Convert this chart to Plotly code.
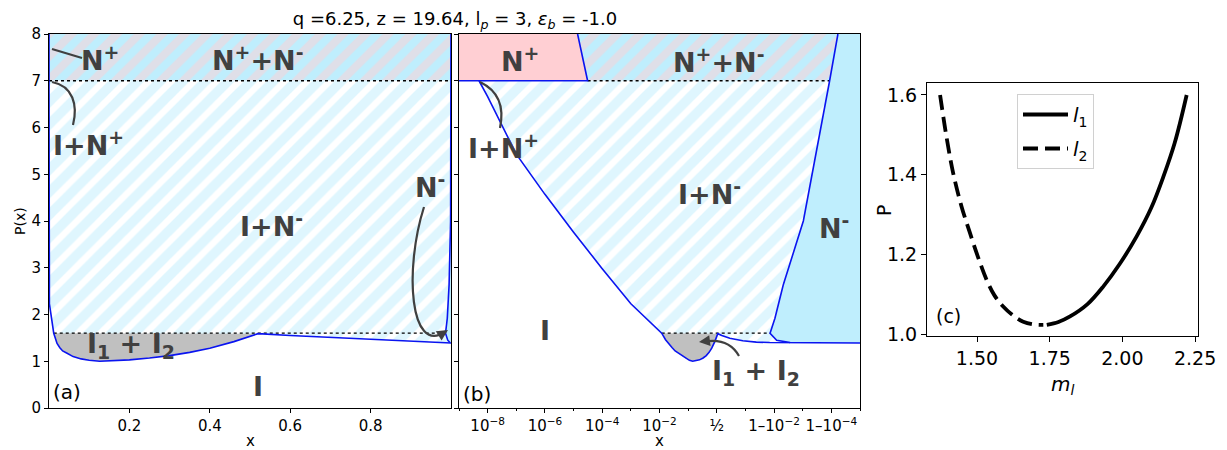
import numpy as np
import plotly.graph_objects as go

# ---------------- data ----------------
# lower phase boundary (I | I+N-  and  I | I1+I2), x and P
low_x = [5e-9, 1e-8, 1e-7, 1e-6, 1e-5, 1e-4, 1e-3, 0.0118, 0.016, 0.02, 0.027, 0.034,
         0.045, 0.06, 0.08, 0.1, 0.126, 0.16, 0.2, 0.25, 0.3, 0.35, 0.4, 0.46, 0.52,
         0.6, 0.74, 0.89, 0.96, 0.986, 0.997, 0.9998, 0.99999]
low_P = [7.0, 6.66, 5.43, 4.57, 3.76, 2.98, 2.23, 1.60, 1.46, 1.38, 1.29, 1.22,
         1.17, 1.10, 1.05, 1.02, 1.00, 1.01, 1.03, 1.07, 1.12, 1.19, 1.28, 1.42, 1.59,
         1.55, 1.49, 1.44, 1.41, 1.40, 1.395, 1.39, 1.39]
# boundary of the pure N- region
nm_x = [0.999941, 0.999885, 0.99905, 0.99523, 0.99076, 0.98638, 0.99194, 0.99725]
nm_P = [8.0, 7.0, 4.0, 2.63, 1.92, 1.60, 1.45, 1.40]
# boundary of the pure N+ region
np_x = [3.09e-5, 1.38e-5]
np_P = [7.0, 8.0]
# horizontal three-phase lines
P_upper = 7.0
P_lower = 1.6
x_lower_start = 0.0118
x_lower_end = 0.98638

# panel (c): coexisting isotropic branches
l1_m = [1.740, 1.780, 1.820, 1.880, 1.934, 1.990, 2.049, 2.100, 2.141, 2.180, 2.221]
l1_P = [1.023, 1.030, 1.044, 1.075, 1.119, 1.175, 1.245, 1.318, 1.395, 1.480, 1.600]
l2_m = [1.373, 1.395, 1.418, 1.446, 1.476, 1.505, 1.533, 1.560, 1.590, 1.625, 1.659, 1.695, 1.728]
l2_P = [1.600, 1.495, 1.404, 1.322, 1.253, 1.190, 1.136, 1.097, 1.069, 1.046, 1.031, 1.024, 1.023]

xticks_b = [-8, -6, -4, -2, 0, 2, 4]
xticktext_b = ["10<sup>−8</sup>", "10<sup>−6</sup>", "10<sup>−4</sup>", "10<sup>−2</sup>", "½",
               "1–10<sup>−2</sup>", "1–10<sup>−4</sup>"]

# ---------------- styling ----------------
BLUE_FILL = "#bfeefd"
PINK = "#ffcfd3"
GRAY = "#c0c0c0"
LINE_BLUE = "#0a14f0"
TXT = "#404040"
# the page body has an 8px margin (top/left): shift the figure coordinates accordingly
OFF = 8
W, H = 1227 - OFF, 450 - OFF


def px(X):
    return (X - OFF) / W


def py(Y):
    return 1 - (Y - OFF) / H


def logit(v):
    v = np.asarray(v, dtype=float)
    return np.log10(v / (1 - v))


def ident(v):
    return np.asarray(v, dtype=float)


fig = go.Figure()


def add_panel(xa, ya, tf, xmin, xmax):
    lx = np.array(low_x)
    lp = np.array(low_P)
    nx = np.array(nm_x)
    npp = np.array(nm_P)
    merge = nx[-1]
    # N+ + N- (hatched pink/blue)
    bx = [np_x[0], nx[1], nx[0], np_x[1]]
    bp = [P_upper, P_upper, 8.0, 8.0]
    fig.add_trace(go.Scatter(x=tf(bx), y=bp, fill="toself", mode="lines", line=dict(width=0),
                             fillcolor=BLUE_FILL,
                             fillpattern=dict(shape="/", bgcolor=BLUE_FILL, fgcolor=PINK,
                                              size=16, solidity=0.5),
                             xaxis=xa, yaxis=ya, hoverinfo="skip", showlegend=False))
    # I + N- (hatched white/blue)
    sel = lx < merge
    px_ = np.concatenate([[lx[0]], nx[1:], lx[sel][::-1]])
    pp_ = np.concatenate([[P_upper], npp[1:], lp[sel][::-1]])
    fig.add_trace(go.Scatter(x=tf(px_), y=pp_, fill="toself", mode="lines", line=dict(width=0),
                             fillcolor="white",
                             fillpattern=dict(shape="/", bgcolor="white", fgcolor=BLUE_FILL,
                                              size=16, solidity=0.6),
                             xaxis=xa, yaxis=ya, hoverinfo="skip", showlegend=False))
    # I1 + I2 (gray)
    g = (lx >= x_lower_start) & (lx <= 0.52)
    fig.add_trace(go.Scatter(x=tf(lx[g]), y=lp[g], fill="toself", mode="lines", line=dict(width=0),
                             fillcolor=GRAY, xaxis=xa, yaxis=ya, hoverinfo="skip", showlegend=False))
    # N- (solid)
    r = lx > merge
    nmx = np.concatenate([nx, lx[r], [xmax, xmax]])
    nmp = np.concatenate([npp, lp[r], [lp[-1], 8.0]])
    fig.add_trace(go.Scatter(x=tf(nmx), y=nmp, fill="toself", mode="lines", line=dict(width=0),
                             fillcolor=BLUE_FILL, xaxis=xa, yaxis=ya, hoverinfo="skip", showlegend=False))
    # N+ (solid)
    fig.add_trace(go.Scatter(x=tf([xmin, np_x[0], np_x[1], xmin]), y=[P_upper, np_P[0], np_P[1], 8.0],
                             fill="toself", mode="lines", line=dict(width=0), fillcolor=PINK,
                             xaxis=xa, yaxis=ya, hoverinfo="skip", showlegend=False))
    # dotted three-phase lines
    fig.add_trace(go.Scatter(x=tf([np_x[0], nx[1]]), y=[P_upper, P_upper], mode="lines",
                             line=dict(color="black", width=1.3, dash="dot"),
                             xaxis=xa, yaxis=ya, hoverinfo="skip", showlegend=False))
    fig.add_trace(go.Scatter(x=tf([x_lower_start, x_lower_end]), y=[P_lower, P_lower], mode="lines",
                             line=dict(color="black", width=1.3, dash="dot"),
                             xaxis=xa, yaxis=ya, hoverinfo="skip", showlegend=False))
    # blue boundaries
    fig.add_trace(go.Scatter(x=tf(lx), y=lp, mode="lines", line=dict(color=LINE_BLUE, width=1.6),
                             xaxis=xa, yaxis=ya, hoverinfo="skip", showlegend=False))
    fig.add_trace(go.Scatter(x=tf(nx), y=npp, mode="lines", line=dict(color=LINE_BLUE, width=1.6),
                             xaxis=xa, yaxis=ya, hoverinfo="skip", showlegend=False))
    fig.add_trace(go.Scatter(x=tf([xmin, np_x[0], np_x[1]]), y=[P_upper, np_P[0], np_P[1]], mode="lines",
                             line=dict(color=LINE_BLUE, width=1.6),
                             xaxis=xa, yaxis=ya, hoverinfo="skip", showlegend=False))


add_panel("x", "y", ident, 0.0, 1.0)
add_panel("x2", "y2", logit, 1e-9, 0.99999)

# panel (c)
fig.add_trace(go.Scatter(x=l1_m, y=l1_P, mode="lines", name="<i>l</i><sub>1</sub>", legendgroup="a",
                         line=dict(color="black", width=3.8, shape="spline"), xaxis="x3", yaxis="y3"))
fig.add_trace(go.Scatter(x=l2_m, y=l2_P, mode="lines", name="<i>l</i><sub>2</sub>", legendgroup="b",
                         line=dict(color="black", width=3.8, shape="spline", dash="15px,7px"),
                         xaxis="x3", yaxis="y3"))

axis_common = dict(showline=True, linecolor="black", linewidth=1, mirror=True, ticks="outside",
                   ticklen=4, tickcolor="black", showgrid=False, zeroline=False, automargin=False,
                   tickangle=0, tickfont=dict(family="DejaVu Sans", size=15, color="black"))
big_ticks = dict(axis_common)
big_ticks.update(tickfont=dict(family="DejaVu Sans", size=19, color="black"), ticklen=5)

ydom = [py(408), py(34)]
fig.update_layout(
    width=W, height=H, margin=dict(l=0, r=0, t=0, b=0, autoexpand=False), autosize=False,
    paper_bgcolor="white", plot_bgcolor="white",
    font=dict(family="DejaVu Sans", color="black"),
    xaxis=dict(domain=[px(49), px(451)], range=[0, 1], tickvals=[0.2, 0.4, 0.6, 0.8],
               anchor="y", **axis_common),
    yaxis=dict(domain=ydom, range=[0, 8], tickvals=list(range(9)), anchor="x", **axis_common),
    xaxis2=dict(domain=[px(459), px(860)], range=[-9, 5], tickvals=xticks_b, ticktext=xticktext_b,
                anchor="y2",
                minor=dict(tickvals=[-9, -7, -5, -3, -1, 1, 3, 5], ticklen=2, tickcolor="black",
                           ticks="outside"),
                **axis_common),
    yaxis2=dict(domain=ydom, range=[0, 8], tickvals=list(range(9)), showticklabels=False,
                anchor="x2", **axis_common),
    xaxis3=dict(domain=[px(927), px(1198)], range=[1.328, 2.26], tickvals=[1.5, 1.75, 2.0, 2.25],
                tickformat=".2f", anchor="y3", **big_ticks),
    yaxis3=dict(domain=[py(336), py(83)], range=[0.995, 1.63], tickvals=[1.0, 1.2, 1.4, 1.6],
                tickformat=".1f", anchor="x3", **big_ticks),
    showlegend=True,
    legend=dict(x=px(1017), y=py(94), xanchor="left", yanchor="top", bgcolor="white",
                bordercolor="#d0d0d0", borderwidth=1, font=dict(size=20, color="black"),
                itemwidth=45, tracegroupgap=5),
    title=dict(text="q =6.25, z = 19.64, l<sub><i>p</i></sub> = 3, <i>ε</i><sub><i>b</i></sub> = -1.0",
               x=px(455), xanchor="center", y=py(19), yanchor="middle",
               font=dict(size=18, color="black")),
)

# axis titles
for t, X, Y, s, ang in [("x", 250, 441, 15, 0), ("x", 659, 441, 15, 0), ("P(x)", 20, 221, 14, -90),
                        ("P", 884, 211, 19, -90), ("<i>m</i><sub><i>l</i></sub>", 1062, 385, 20, 0)]:
    fig.add_annotation(text=t, x=px(X), y=py(Y), xref="paper", yref="paper", showarrow=False,
                       textangle=ang, xanchor="center", yanchor="middle",
                       font=dict(size=s, color="black"))

# ---------------- region labels ----------------
labels = [
    ("N<sup>+</sup>", 100, 58), ("N<sup>+</sup>+N<sup>-</sup>", 258, 58), ("I+N<sup>+</sup>", 88, 143),
    ("I+N<sup>-</sup>", 271, 224), ("N<sup>-</sup>", 430, 185), ("I<sub>1</sub> + I<sub>2</sub>", 131, 345),
    ("I", 258, 386),
    ("N<sup>+</sup>", 520, 59), ("N<sup>+</sup>+N<sup>-</sup>", 719, 60), ("I+N<sup>+</sup>", 503, 146),
    ("I+N<sup>-</sup>", 709, 192), ("N<sup>-</sup>", 834, 226), ("I", 545, 330),
    ("I<sub>1</sub> + I<sub>2</sub>", 756, 372),
]
for t, X, Y in labels:
    fig.add_annotation(text="<b>" + t + "</b>", x=px(X), y=py(Y), xref="paper", yref="paper",
                       showarrow=False, xanchor="center", yanchor="middle",
                       font=dict(family="DejaVu Sans", size=27, color=TXT))
for t, X, Y, s in [("(a)", 67, 392, 20), ("(b)", 477, 394, 20), ("(c)", 948, 316, 19)]:
    fig.add_annotation(text=t, x=px(X), y=py(Y), xref="paper", yref="paper", showarrow=False,
                       xanchor="center", yanchor="middle", font=dict(size=s, color="black"))


# ---------------- connector curves ----------------
def path_px(d):
    out = []
    for tok in d.split():
        if "," in tok:
            a, b = tok.split(",")
            out.append(f"{px(float(a)):.5f},{py(float(b)):.5f}")
        else:
            out.append(tok)
    return " ".join(out)


curves = [
    "M 82,58 L 52,49",
    "M 73,125 C 78,105 73,86 52,82",
    "M 424,207 C 404,270 410,355 445,332",
    "M 500,128 Q 507,95 480,82",
    "M 739,356 Q 728,337 703,342",
]
for d in curves:
    fig.add_shape(type="path", path=path_px(d), xref="paper", yref="paper",
                  line=dict(color=TXT, width=2.2))
for X, Y, ax, ay in [(448, 330, -8, 5), (699, 342, 8, -1)]:
    fig.add_annotation(x=px(X), y=py(Y), xref="paper", yref="paper", text="", showarrow=True,
                       ax=ax, ay=ay, arrowhead=2, arrowsize=1, arrowwidth=2.2, arrowcolor=TXT,
                       standoff=0)

fig.write_html("out.html")
